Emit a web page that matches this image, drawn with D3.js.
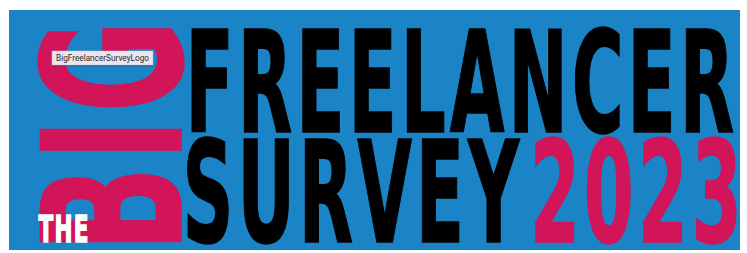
<!DOCTYPE html>
<html>
<head>
<meta charset="utf-8">
<script src="https://cdn.jsdelivr.net/npm/d3@7"></script>
<style>
  html, body { margin: 0; padding: 0; background: #fff; }
  svg { display: block; }
</style>
</head>
<body>
<svg id="logo"></svg>
<script>
// words of the logo
const titleLines = ["FREELANCER", "SURVEY"];
const yearText = ["2023"];
const sideWord = ["BIG"];
const smallWord = ["THE"];
const tooltipText = ["BigFreelancerSurveyLogo"];

const width = 747;
const height = 253;
const panel = { x: 9, y: 10, w: 731, h: 240 };
const blue = "#1b84c6";
const pink = "#d21459";
const face = "'DejaVu Sans Condensed', 'DejaVu Sans', sans-serif";
const thick = 1.2; // extra stroke so the stems look as heavy as the original
const track = 0.05; // letter spacing, in em

const svg = d3.select("#logo").attr("width", width).attr("height", height);

// measure the ink of a string so it can be squeezed to a box
const ctx = document.createElement("canvas").getContext("2d");
const ink = (text, size) => {
  ctx.font = `bold ${size}px ${face}`;
  ctx.letterSpacing = `${track * size}px`;
  const m = ctx.measureText(text);
  return { left: -m.actualBoundingBoxLeft, right: m.actualBoundingBoxRight, asc: m.actualBoundingBoxAscent };
};
const capRatio = ink("H", 100).asc / 100;

// put text so its caps fill [x0,x1] x [top,bottom]
const fitText = (g, text, x0, x1, top, bottom, fill) => {
  const h = thick / 2;
  x0 += h; x1 -= h; top += h; bottom -= h;
  const size = (bottom - top) / capRatio;
  const m = ink(text, size);
  // the canvas adds tracking after the last letter too
  const right = m.right - (ctx.letterSpacing ? 0 : 0);
  const s = (x1 - x0) / (right - m.left);
  g.append("text")
    .attr("transform", `translate(${x0 - m.left * s},${bottom}) scale(${s},1)`)
    .attr("font-family", face)
    .attr("font-weight", "bold")
    .attr("font-size", size)
    .attr("letter-spacing", track * size)
    .attr("fill", fill)
    .attr("stroke", fill)
    .attr("stroke-width", thick)
    .attr("vector-effect", "non-scaling-stroke")
    .text(text);
};

svg.append("rect")
  .attr("x", panel.x).attr("y", panel.y)
  .attr("width", panel.w).attr("height", panel.h)
  .attr("fill", blue);

// rows of the main title
const row = d3.scaleBand().domain(titleLines).range([28, 243]).paddingInner(0.06);

// BIG, rotated, reading upward
const side = svg.append("g").attr("transform", `translate(182,243) rotate(-90)`);
sideWord.forEach(w => fitText(side, w, 0, 215, -142, 0, pink));

smallWord.forEach(w => fitText(svg, w, 38, 88, 215, 243, "#fff"));

fitText(svg, titleLines[0], 191, 734, row(titleLines[0]), row(titleLines[0]) + row.bandwidth(), "#000");
fitText(svg, titleLines[1], 187, 521, row(titleLines[1]), row(titleLines[1]) + row.bandwidth(), "#000");
yearText.forEach(w => fitText(svg, w, 535, 737, row(titleLines[1]), row(titleLines[1]) + row.bandwidth(), pink));

// browser tooltip left over on the image
const tip = svg.append("g").attr("transform", "translate(52,51)");
tip.append("rect")
  .attr("x", 0.5).attr("y", 1.5).attr("width", 101).attr("height", 14)
  .attr("fill", "rgba(0,0,0,0.2)");
tip.append("rect")
  .attr("width", 101).attr("height", 14)
  .attr("fill", "#ebe5f0").attr("stroke", "#c9c2cf").attr("stroke-width", 0.5);
tip.selectAll("text.tip")
  .data(tooltipText)
  .join("text")
  .attr("class", "tip")
  .attr("x", 4).attr("y", 10.3)
  .attr("textLength", 93)
  .attr("lengthAdjust", "spacingAndGlyphs")
  .attr("font-family", "Roboto, 'Noto Sans', sans-serif")
  .attr("font-size", 9.5)
  .attr("fill", "#2a2a2a")
  .text(d => d);
</script>
</body>
</html>
